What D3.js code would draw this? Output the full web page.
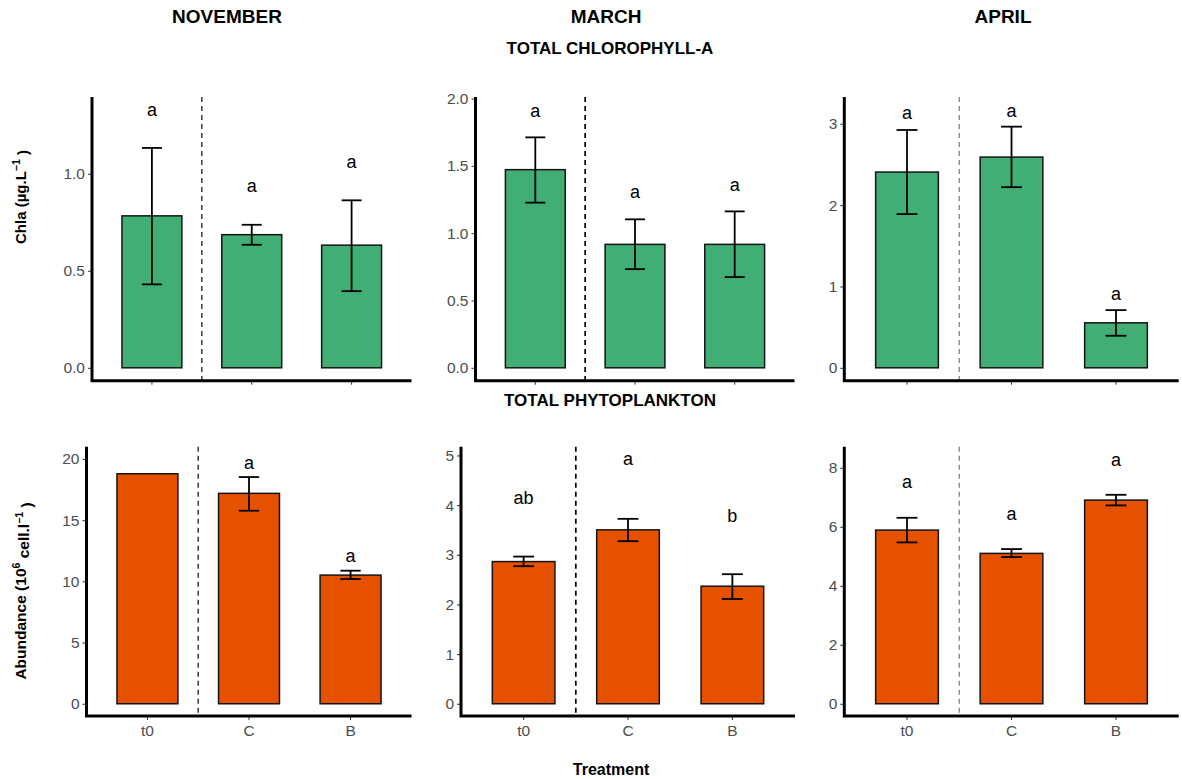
<!DOCTYPE html>
<html>
<head>
<meta charset="utf-8">
<script src="https://cdn.jsdelivr.net/npm/d3@7"></script>
<style>
  html, body { margin: 0; padding: 0; background: #fff; }
  svg { display: block; font-family: "Liberation Sans", Arial, sans-serif; }
</style>
</head>
<body>
<svg id="chart" width="1182" height="779"></svg>
<script>
// Sampling months and treatments
const months = ["NOVEMBER", "MARCH", "APRIL"];
const treatments = ["t0", "C", "B"];

// Total chlorophyll-a (µg/L): mean, error bar ends, significance letters
const chlaMean = [[0.783, 0.686, 0.632], [1.472, 0.917, 0.917], [2.406, 2.590, 0.553]];
const chlaLow  = [[0.430, 0.634, 0.395], [1.227, 0.733, 0.674], [1.889, 2.220, 0.394]];
const chlaHigh = [[1.133, 0.737, 0.863], [1.712, 1.103, 1.162], [2.923, 2.964, 0.709]];
const chlaLetters = [["a", "a", "a"], ["a", "a", "a"], ["a", "a", "a"]];
const chlaLetterY = [[1.323, 0.930, 1.053], [1.900, 1.294, 1.348], [3.112, 3.144, 0.889]];
const chlaTicks = [[0, 0.5, 1.0], [0, 0.5, 1.0, 1.5, 2.0], [0, 1, 2, 3]];
const chlaLimit = [1.329, 1.916, 3.17];

// Total phytoplankton abundance (10^6 cells/L)
const phytoMean = [[18.79, 17.19, 10.51], [2.863, 3.502, 2.367], [5.888, 5.098, 6.905]];
const phytoLow  = [[null, 15.77, 10.19], [2.770, 3.274, 2.110], [5.470, 4.973, 6.725]];
const phytoHigh = [[null, 18.52, 10.87], [2.964, 3.724, 2.609], [6.305, 5.244, 7.085]];
const phytoLetters = [["", "a", "a"], ["ab", "a", "b"], ["a", "a", "a"]];
const phytoLetterY = [[null, 19.58, 11.96], [4.117, 4.913, 3.760], [7.47, 6.40, 8.24]];
const phytoTicks = [[0, 5, 10, 15, 20], [0, 1, 2, 3, 4, 5], [0, 2, 4, 6, 8]];
const phytoLimit = [20, 4.93, 8.3];

// Layout
const svg = d3.select("#chart");
const rowsLayout = [
  { y: [97, 380.7], xs: [[92, 411.5], [475.5, 794.5], [844.3, 1178.7]], fill: "#41AE76",
    mean: chlaMean, low: chlaLow, high: chlaHigh, letters: chlaLetters, letterY: chlaLetterY,
    ticks: chlaTicks, limit: chlaLimit, fmt: [".1f", ".1f", "d"], xLabels: false },
  { y: [446.7, 716], xs: [[86.5, 411.5], [461, 795], [844.3, 1178.7]], fill: "#E65100",
    mean: phytoMean, low: phytoLow, high: phytoHigh, letters: phytoLetters, letterY: phytoLetterY,
    ticks: phytoTicks, limit: phytoLimit, fmt: ["d", "d", "d"], xLabels: true }
];
const dashStyle = [
  { stroke: "#3a3a3a", width: 1.5 },
  { stroke: "#000000", width: 1.7 },
  { stroke: "#777777", width: 1.2 }
];

rowsLayout.forEach(row => {
  months.forEach((m, j) => {
    const [x0, x1] = row.xs[j];
    const x = d3.scaleBand().domain(treatments).range([x0, x1])
      .paddingInner(0.4).paddingOuter(0.3);
    const H = row.limit[j];
    const y = d3.scaleLinear().domain([-0.05 * H, 1.05 * H]).range([row.y[1], row.y[0]]);
    const g = svg.append("g");

    // separator between initial state and treatments
    const sepX = x("t0") + x.bandwidth() + x.step() * 0.2;
    g.append("line")
      .attr("x1", sepX).attr("x2", sepX)
      .attr("y1", row.y[0]).attr("y2", row.y[1])
      .attr("stroke", dashStyle[j].stroke)
      .attr("stroke-width", dashStyle[j].width)
      .attr("stroke-dasharray", "5,4");

    // bars
    g.selectAll("rect.bar").data(treatments).enter().append("rect")
      .attr("class", "bar")
      .attr("x", d => x(d))
      .attr("width", x.bandwidth())
      .attr("y", (d, i) => y(row.mean[j][i]))
      .attr("height", (d, i) => y(0) - y(row.mean[j][i]))
      .attr("fill", row.fill)
      .attr("stroke", "#141414")
      .attr("stroke-width", 1.5);

    // error bars
    const capW = x.step() * 0.2;
    treatments.forEach((t, i) => {
      const lo = row.low[j][i], hi = row.high[j][i];
      if (lo == null || hi == null) return;
      const cx = x(t) + x.bandwidth() / 2;
      const eg = g.append("g").attr("stroke", "#000").attr("stroke-width", 1.8);
      eg.append("line").attr("x1", cx).attr("x2", cx).attr("y1", y(lo)).attr("y2", y(hi));
      eg.append("line").attr("x1", cx - capW / 2).attr("x2", cx + capW / 2).attr("y1", y(lo)).attr("y2", y(lo));
      eg.append("line").attr("x1", cx - capW / 2).attr("x2", cx + capW / 2).attr("y1", y(hi)).attr("y2", y(hi));
    });

    // significance letters
    treatments.forEach((t, i) => {
      const lab = row.letters[j][i];
      if (!lab) return;
      g.append("text")
        .attr("x", x(t) + x.bandwidth() / 2)
        .attr("y", y(row.letterY[j][i]))
        .attr("dy", "0.27em")
        .attr("text-anchor", "middle")
        .attr("font-size", 18)
        .attr("fill", "#000")
        .text(lab);
    });

    // y axis
    const yAxis = g.append("g").attr("transform", `translate(${x0},0)`)
      .call(d3.axisLeft(y).tickValues(row.ticks[j]).tickFormat(d3.format(row.fmt[j]))
        .tickSize(4).tickPadding(3));
    yAxis.select(".domain").remove();
    yAxis.selectAll(".tick line").attr("stroke", "#333");
    yAxis.selectAll(".tick text").attr("fill", "#4d4d4d").attr("font-size", 15.5)
      .attr("font-family", "Liberation Sans, Arial, sans-serif");

    // x axis
    const xAxis = g.append("g").attr("transform", `translate(0,${row.y[1]})`)
      .call(d3.axisBottom(x).tickSize(4).tickPadding(5)
        .tickFormat(row.xLabels ? (d => d) : () => ""));
    xAxis.select(".domain").remove();
    xAxis.selectAll(".tick line").attr("stroke", "#333");
    xAxis.selectAll(".tick text").attr("fill", "#4d4d4d").attr("font-size", 15.5)
      .attr("font-family", "Liberation Sans, Arial, sans-serif");

    // axis lines (left and bottom)
    g.append("path")
      .attr("d", `M${x0},${row.y[0]}V${row.y[1]}H${x1}`)
      .attr("fill", "none")
      .attr("stroke", "#000")
      .attr("stroke-width", 3);
  });
});

// Month titles
const monthX = [227, 606, 1003];
svg.selectAll("text.month").data(months).enter().append("text")
  .attr("class", "month")
  .attr("x", (d, i) => monthX[i]).attr("y", 23)
  .attr("text-anchor", "middle")
  .attr("font-size", 19).attr("font-weight", "bold")
  .text(d => d);

// Row titles
svg.append("text").attr("x", 610).attr("y", 54).attr("text-anchor", "middle")
  .attr("font-size", 17).attr("font-weight", "bold").text("TOTAL CHLOROPHYLL-A");
svg.append("text").attr("x", 610).attr("y", 406).attr("text-anchor", "middle")
  .attr("font-size", 17).attr("font-weight", "bold").text("TOTAL PHYTOPLANKTON");

// Y axis titles with superscripts
const chlaTitle = svg.append("text")
  .attr("transform", "translate(26,197) rotate(-90)")
  .attr("text-anchor", "middle").attr("font-size", 15).attr("font-weight", "bold");
chlaTitle.append("tspan").text("Chla (µg.L");
chlaTitle.append("tspan").attr("dy", "-0.55em").attr("font-size", 10.5).text("\u22121");
chlaTitle.append("tspan").attr("dy", "0.55em").text(" )");

const abTitle = svg.append("text")
  .attr("transform", "translate(26,591) rotate(-90)")
  .attr("text-anchor", "middle").attr("font-size", 15.5).attr("font-weight", "bold");
abTitle.append("tspan").text("Abundance (10");
abTitle.append("tspan").attr("dy", "-0.55em").attr("font-size", 10.5).text("6");
abTitle.append("tspan").attr("dy", "0.55em").text(" cell.l");
abTitle.append("tspan").attr("dy", "-0.55em").attr("font-size", 10.5).text("\u22121");
abTitle.append("tspan").attr("dy", "0.55em").text(" )");

// X axis title
svg.append("text").attr("x", 611).attr("y", 775).attr("text-anchor", "middle")
  .attr("font-size", 16).attr("font-weight", "bold").text("Treatment");
</script>
</body>
</html>
